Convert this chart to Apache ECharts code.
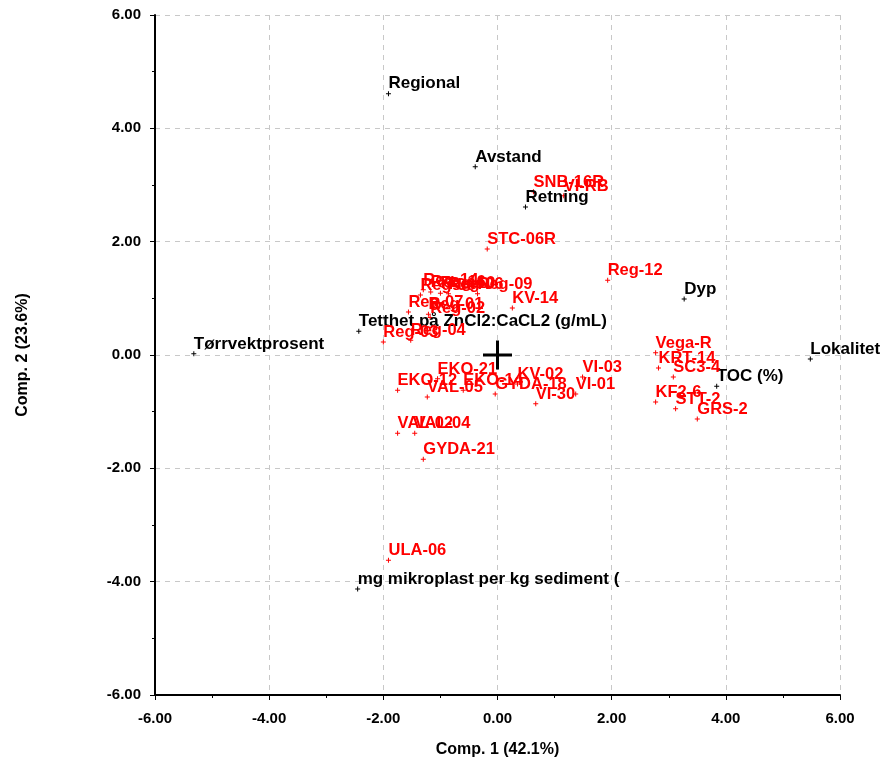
<!DOCTYPE html>
<html>
<head>
<meta charset="utf-8">
<script src="https://cdn.jsdelivr.net/npm/echarts@6/dist/echarts.min.js"></script>
<style>
html,body{margin:0;padding:0;background:#fff;}
#chart{width:887px;height:760px;}
</style>
</head>
<body>
<div id="chart"></div>
<script>
// Variables (black)
const varNames = ['Regional','Avstand','Retning','Dyp','Tørrvektprosent','Tetthet på ZnCl2:CaCL2 (g/mL)','Lokalitet','TOC (%)','mg mikroplast per kg sediment ('];
const varX = [-1.91,-0.39,0.49,3.27,-5.32,-2.43,5.48,3.84,-2.45];
const varY = [4.61,3.32,2.61,0.99,0.02,0.42,-0.07,-0.55,-4.13];

// Observations (red)
const obsNames = ['SNB-16R','VI-RB','STC-06R','Reg-12','KV-14','Reg-14','Reg-16','Reg-10','Reg-08','Reg-06','Reg-09','Reg-07','Reg-01','Reg-02','Reg-03','Reg-04','EKO-21','EKO-12','VAL-05','EKO-14','GYDA-18','KV-02','VI-30','VI-01','VI-03','VAL-02','VAL-04','GYDA-21','ULA-06','Vega-R','KRT-14','SC3-4','KF2-6','STT-2','GRS-2'];
const obsX = [0.63,1.16,-0.18,1.93,0.26,-1.30,-1.17,-1.00,-1.35,-0.86,-0.35,-1.56,-1.21,-1.18,-2.00,-1.52,-1.05,-1.75,-1.23,-0.60,-0.04,0.35,0.67,1.37,1.49,-1.75,-1.45,-1.30,-1.91,2.77,2.82,3.08,2.77,3.12,3.50];
const obsY = [2.88,2.81,1.87,1.32,0.83,1.15,1.11,1.09,1.06,1.08,1.08,0.76,0.72,0.66,0.23,0.26,-0.42,-0.62,-0.74,-0.62,-0.69,-0.51,-0.86,-0.69,-0.39,-1.38,-1.38,-1.84,-3.62,0.04,-0.23,-0.39,-0.83,-0.95,-1.13];

// Axis settings
const axisMin = -6, axisMax = 6, axisStep = 2;
const xTitle = 'Comp. 1 (42.1%)';
const yTitle = 'Comp. 2 (23.6%)';

const plus = 'path://M2,0h1v5h-1z M0,2h5v1h-5z';
const bigPlus = 'path://M13,0h3v29h-3z M0,13h29v3h-29z';

function mk(names, xs, ys){ return names.map((n,i)=>({name:n, value:[xs[i], ys[i]]})); }

function axis(name, isY){
  return {
    type:'value', min:axisMin, max:axisMax, interval:axisStep,
    name:name, nameLocation:'middle', nameGap: isY ? 124 : 47,
    nameTextStyle:{fontFamily:'Liberation Sans, Arial', fontWeight:'bold', fontSize:16, color:'#000'},
    axisLine:{show:true, onZero:false, lineStyle:{color:'#000', width:2}},
    axisTick:{show:true, inside:false, length:5, lineStyle:{color:'#000'}},
    minorTick:{show:true, splitNumber:2, length:3, lineStyle:{color:'#000'}},
    axisLabel:{formatter:v=>v.toFixed(2), fontFamily:'Liberation Sans, Arial', fontWeight:'bold', fontSize:15, color:'#000', margin: isY ? 14 : 16},
    splitLine:{show:true, lineStyle:{color:'#c8c8c8', type:[5,5], width:1}}
  };
}

const chart = echarts.init(document.getElementById('chart'));
chart.setOption({
  animation:false,
  backgroundColor:'#fff',
  grid:{left:155, right:47, top:15, bottom:65, containLabel:false, outerBoundsMode:'none'},
  xAxis: axis(xTitle,false),
  yAxis: axis(yTitle,true),
  series:[
    {type:'scatter', data:[[0,0]], symbol:bigPlus, symbolSize:29, itemStyle:{color:'#000', opacity:1}, z:5, silent:true},
    {type:'scatter', data:mk(varNames,varX,varY), symbol:plus, symbolSize:5, itemStyle:{color:'#000', opacity:1},
      label:{show:true, formatter:p=>p.name, position:[2.5,-16], color:'#000', fontFamily:'Liberation Sans, Arial', fontWeight:'bold', fontSize:17}},
    {type:'scatter', data:mk(obsNames,obsX,obsY), symbol:plus, symbolSize:5, itemStyle:{color:'#ff0000', opacity:1},
      label:{show:true, formatter:p=>p.name, position:[2.5,-15.5], color:'#ff0000', fontFamily:'Liberation Sans, Arial', fontWeight:'bold', fontSize:16.5}}
  ]
});
</script>
</body>
</html>
